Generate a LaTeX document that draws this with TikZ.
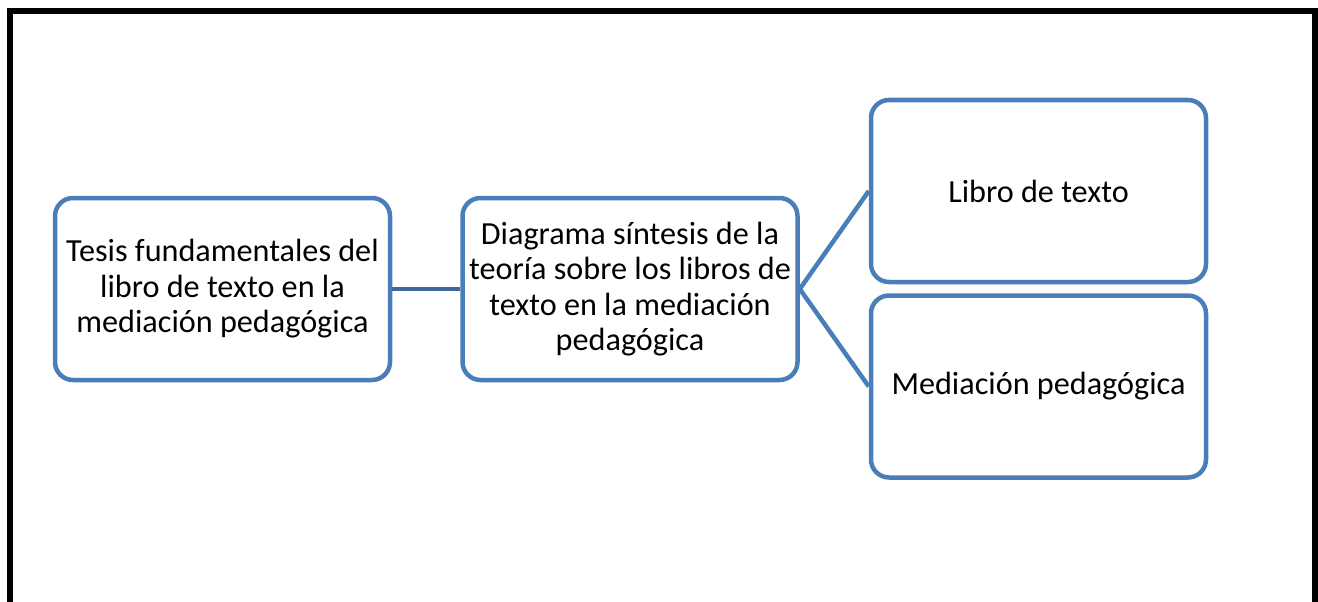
\documentclass[tikz,border=0pt]{standalone}
\usepackage{fontspec}
\setmainfont{Carlito}
\begin{document}
\begin{tikzpicture}[x=1pt, y=-1pt,
  caja/.style = {draw = azul, line width = 4.5pt, rounded corners = 18pt, fill = white,
    minimum width = 335pt, minimum height = 182pt, align = center, inner sep = 0pt,
    font = \fontsize{32.2}{35.5}\selectfont},
  enlace/.style = {draw = azul, line width = 4.5pt}]
\definecolor{azul}{HTML}{4A7EBB}
\definecolor{azuloscuro}{HTML}{41689A}
\useasboundingbox (0, 0) rectangle (1318, 602);
\draw[line width = 6pt] (10, 610) -- (10, 11) -- (1315, 11) -- (1315, 610);
\node[caja] (tesis) at (222.5, 289) {Tesis fundamentales del\\libro de texto en la\\mediación pedagógica};
\node[caja] (diagrama) at (630, 289) {Diagrama síntesis de la\\teoría sobre los libros de\\texto en la mediación\\pedagógica};
\node[caja] (libro) at (1038.5, 191) {Libro de texto};
\node[caja] (mediacion) at (1038.5, 386.5) {Mediación pedagógica};
\draw[enlace, draw = azuloscuro] (tesis.east) -- (diagrama.west);
\draw[enlace] (diagrama.east) -- (libro.west);
\draw[enlace] (diagrama.east) -- (mediacion.west);
\end{tikzpicture}
\end{document}
